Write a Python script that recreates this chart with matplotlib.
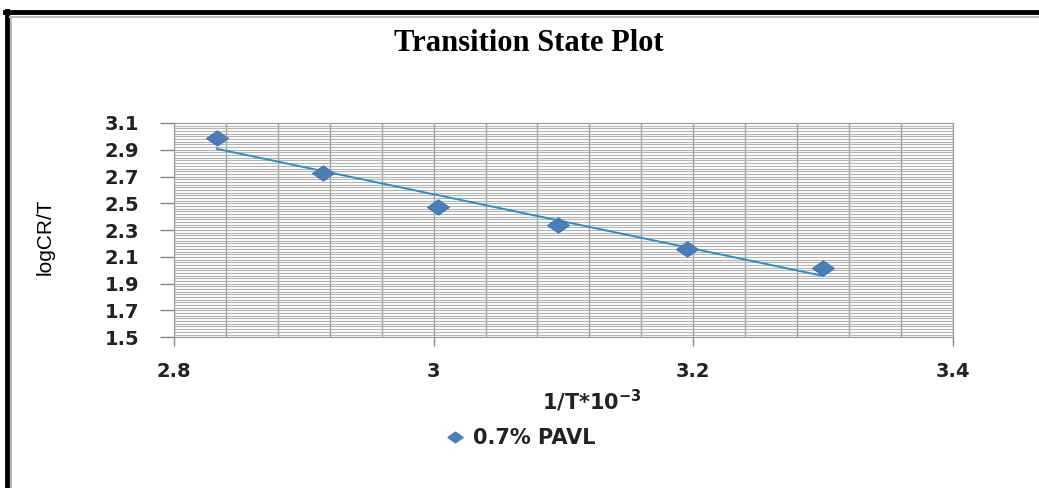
import matplotlib.pyplot as plt
import numpy as np
from matplotlib.lines import Line2D
from matplotlib.ticker import MultipleLocator

plt.rcParams['mathtext.default'] = 'regular'

# Transition state plot data (1/T * 10^-3 vs log CR/T)
inv_T = [2.833, 2.915, 3.003, 3.096, 3.195, 3.300]
log_cr_t = [2.99, 2.73, 2.47, 2.34, 2.16, 2.02]
series_name = '0.7% PAVL'

x_ticks = [2.8, 3.0, 3.2, 3.4]
x_tick_labels = ['2.8', '3', '3.2', '3.4']
y_ticks = [1.5, 1.7, 1.9, 2.1, 2.3, 2.5, 2.7, 2.9, 3.1]

fig = plt.figure(figsize=(10.39, 4.88), dpi=100)
ax = fig.add_axes([0.1675, 0.309, 0.7495, 0.439])

# linear trendline (least squares, as Excel does)
k, b = np.polyfit(inv_T, log_cr_t, 1)
xs = np.array([inv_T[0], inv_T[-1]])
ax.plot(xs, k * xs + b, color='#2b8fc9', lw=1.4, zorder=3)

diamond = [(-1, 0), (0, 0.7), (1, 0), (0, -0.7), (-1, 0)]
ax.plot(inv_T, log_cr_t, ls='none', marker=diamond, ms=16,
        color='#4a7ebb', mec='#3f6fa8', mew=0.6, zorder=4)

ax.set_xlim(2.8, 3.4)
ax.set_ylim(1.5, 3.1)
ax.set_xticks(x_ticks)
ax.set_xticklabels(x_tick_labels)
ax.set_yticks(y_ticks)
ax.set_yticklabels([f'{v:.1f}' for v in y_ticks])
ax.xaxis.set_minor_locator(MultipleLocator(0.04))
ax.yaxis.set_minor_locator(MultipleLocator(0.02))
ax.grid(True, which='both', axis='x', color='#a0a0a0', lw=1.0)
ax.grid(True, which='both', axis='y', color='#b4b4b4', lw=0.8)
ax.set_axisbelow(True)
ax.tick_params(which='major', width=1, color='#888888', labelsize=14)
ax.tick_params(axis='y', which='major', length=10, pad=15)
ax.tick_params(axis='x', which='major', length=6.5, pad=11)
ax.tick_params(which='minor', length=0)
for lab in ax.get_xticklabels() + ax.get_yticklabels():
    lab.set_fontweight('bold')
    lab.set_color('#222222')
for s in ax.spines.values():
    s.set_color('#999999')

ax.set_xlabel('1/T*10$^{-3}$', fontsize=15, weight='bold', color='#222222')
ax.xaxis.set_label_coords(0.537, -0.235)
ax.set_ylabel('logCR/T', fontsize=15, family='Liberation Sans')
ax.yaxis.set_label_coords(-0.153, 0.47)
fig.text(0.509, 0.91, 'Transition State Plot', ha='center', va='center',
         fontsize=22, family='Liberation Serif', weight='bold')

handle = Line2D([], [], ls='none', marker=diamond, ms=11, color='#4a7ebb')
fig.legend([handle], [series_name], loc='center left', bbox_to_anchor=(0.41, 0.102),
           frameon=False, prop={'size': 15, 'weight': 'bold'},
           handletextpad=0.35, handlelength=1.0, labelcolor='#222222')

# outer frame (top and left only, as in the source image)
fig.add_artist(Line2D([0.005, 1.0], [0.975, 0.975], color='black', lw=3.5,
                      transform=fig.transFigure))
fig.add_artist(Line2D([0.0068, 0.0068], [0.0, 0.977], color='black', lw=3.5,
                      transform=fig.transFigure))
fig.add_artist(Line2D([0.01, 1.0], [0.966, 0.966], color='#b8b8b8', lw=1.5,
                      transform=fig.transFigure))
fig.add_artist(Line2D([0.0105, 0.0105], [0.0, 0.966], color='#b8b8b8', lw=1.5,
                      transform=fig.transFigure))

fig.savefig('out.png', dpi=100)
